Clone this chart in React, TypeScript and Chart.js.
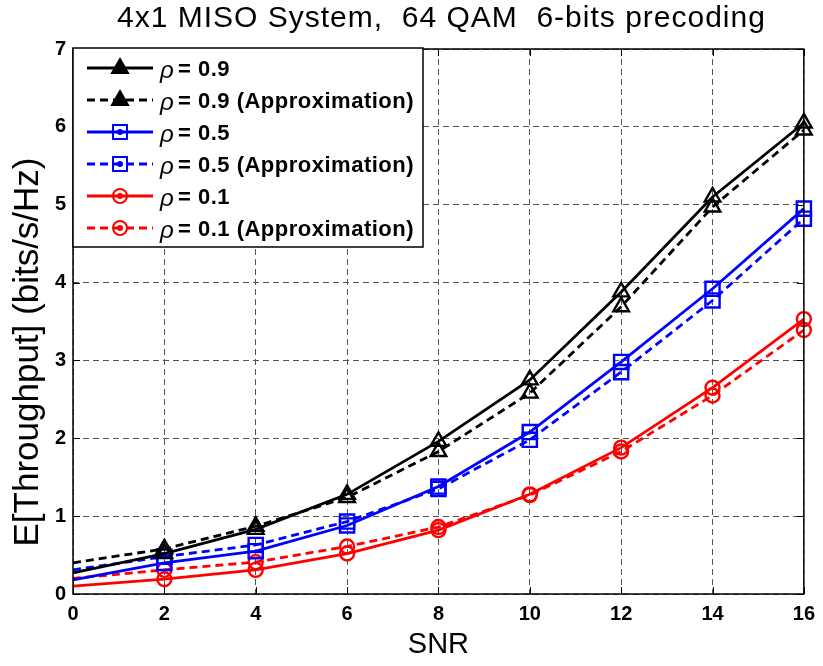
import { useEffect, useRef } from "react";
import { Chart, registerables } from "chart.js";

Chart.register(...registerables);

const snr = [0, 2, 4, 6, 8, 10, 12, 14, 16];
const rho09 = [0.27, 0.52, 0.83, 1.28, 1.96, 2.75, 3.88, 5.1, 6.05];
const rho09Approx = [0.4, 0.58, 0.87, 1.24, 1.83, 2.58, 3.69, 4.97, 5.96];
const rho05 = [0.18, 0.4, 0.55, 0.88, 1.38, 2.08, 2.98, 3.92, 4.95];
const rho05Approx = [0.31, 0.48, 0.63, 0.93, 1.35, 1.98, 2.85, 3.77, 4.82];
const rho01 = [0.1, 0.19, 0.31, 0.52, 0.82, 1.28, 1.88, 2.65, 3.53];
const rho01Approx = [0.2, 0.31, 0.41, 0.61, 0.86, 1.27, 1.83, 2.55, 3.39];

const legendLabels = [
  "= 0.9",
  "= 0.9 (Approximation)",
  "= 0.5",
  "= 0.5 (Approximation)",
  "= 0.1",
  "= 0.1 (Approximation)",
];
const titleText = "4x1 MISO System,  64 QAM  6-bits precoding";
const xLabel = "SNR";
const yLabel = "E[Throughput] (bits/s/Hz)";

const FONT = "'Liberation Sans', Arial, Helvetica, sans-serif";

type Series = {
  label: string;
  values: number[];
  color: string;
  dashed: boolean;
  marker: "triangle" | "rect" | "circle";
  radius: number;
};

const series: Series[] = [
  { label: legendLabels[0], values: rho09, color: "#000000", dashed: false, marker: "triangle", radius: 9 },
  { label: legendLabels[1], values: rho09Approx, color: "#000000", dashed: true, marker: "triangle", radius: 9 },
  { label: legendLabels[2], values: rho05, color: "#0000ff", dashed: false, marker: "rect", radius: 10 },
  { label: legendLabels[3], values: rho05Approx, color: "#0000ff", dashed: true, marker: "rect", radius: 10 },
  { label: legendLabels[4], values: rho01, color: "#ff0000", dashed: false, marker: "circle", radius: 7 },
  { label: legendLabels[5], values: rho01Approx, color: "#ff0000", dashed: true, marker: "circle", radius: 7 },
];

const LINE_DASH = [8, 5];

function setSpacing(ctx: any, v: string) {
  try {
    ctx.letterSpacing = v;
  } catch (e) {}
}

const framePlugin = {
  id: "frameAndLegend",
  afterDatasetsDraw(chart: any) {
    const { ctx, chartArea, scales } = chart;
    const { left, right, top, bottom } = chartArea;
    ctx.save();
    // inward tick marks
    ctx.strokeStyle = "#000";
    ctx.lineWidth = 1;
    ctx.setLineDash([]);
    const tl = 7;
    scales.x.ticks.forEach((t: any) => {
      const px = Math.round(scales.x.getPixelForValue(t.value)) + 0.5;
      ctx.beginPath();
      ctx.moveTo(px, bottom);
      ctx.lineTo(px, bottom - tl);
      ctx.moveTo(px, top);
      ctx.lineTo(px, top + tl);
      ctx.stroke();
    });
    scales.y.ticks.forEach((t: any) => {
      const py = Math.round(scales.y.getPixelForValue(t.value)) + 0.5;
      ctx.beginPath();
      ctx.moveTo(left, py);
      ctx.lineTo(left + tl, py);
      ctx.moveTo(right, py);
      ctx.lineTo(right - tl, py);
      ctx.stroke();
    });
    // frame
    ctx.lineWidth = 1.5;
    ctx.strokeRect(left, top, right - left, bottom - top);

    // legend
    const x0 = left;
    const y0 = top - 1;
    const w = 350;
    const h = 199;
    ctx.fillStyle = "#fff";
    ctx.fillRect(x0, y0, w, h);
    ctx.lineWidth = 1.5;
    ctx.strokeStyle = "#000";
    ctx.strokeRect(x0, y0, w, h);

    series.forEach((s, i) => {
      const cy = y0 + 20 + i * 32;
      ctx.strokeStyle = s.color;
      ctx.lineWidth = 2.8;
      ctx.setLineDash(s.dashed ? LINE_DASH : []);
      ctx.beginPath();
      ctx.moveTo(x0 + 14, cy);
      ctx.lineTo(x0 + 80, cy);
      ctx.stroke();
      ctx.setLineDash([]);
      const mx = x0 + 47;
      ctx.lineWidth = 2;
      ctx.fillStyle = s.color;
      if (s.marker === "triangle") {
        ctx.beginPath();
        ctx.moveTo(mx, cy - 9);
        ctx.lineTo(mx + 8, cy + 5);
        ctx.lineTo(mx - 8, cy + 5);
        ctx.closePath();
        ctx.fill();
        ctx.stroke();
      } else if (s.marker === "rect") {
        ctx.strokeRect(mx - 7, cy - 7, 14, 14);
        ctx.beginPath();
        ctx.arc(mx, cy, 3, 0, Math.PI * 2);
        ctx.fill();
      } else {
        ctx.beginPath();
        ctx.arc(mx, cy, 7, 0, Math.PI * 2);
        ctx.stroke();
        ctx.beginPath();
        ctx.arc(mx, cy, 3, 0, Math.PI * 2);
        ctx.fill();
      }
      ctx.fillStyle = "#000";
      ctx.textBaseline = "alphabetic";
      ctx.textAlign = "left";
      ctx.font = `italic 24px ${FONT}`;
      ctx.fillText("\u03c1", x0 + 87, cy + 10);
      ctx.font = `bold 22px ${FONT}`;
      setSpacing(ctx, "0.5px");
      ctx.fillText(s.label, x0 + 105, cy + 8);
      setSpacing(ctx, "0px");
    });
    ctx.restore();
  },
  afterDraw(chart: any) {
    const { ctx, chartArea } = chart;
    const cx = (chartArea.left + chartArea.right) / 2;
    ctx.save();
    ctx.fillStyle = "#000";
    ctx.textAlign = "center";
    ctx.textBaseline = "middle";
    // title
    ctx.font = `normal 30px ${FONT}`;
    setSpacing(ctx, "1px");
    ctx.fillText(titleText, cx + 3, 19);
    setSpacing(ctx, "0px");
    // y label
    ctx.translate(28, 352);
    ctx.rotate(-Math.PI / 2);
    ctx.font = `normal 35px ${FONT}`;
    ctx.fillText(yLabel, 0, 0);
    ctx.restore();
  },
};

export default function App() {
  const canvasRef = useRef<HTMLCanvasElement | null>(null);

  useEffect(() => {
    if (!canvasRef.current) return;
    const datasets = series.map((s) => ({
      label: "\u03c1 " + s.label,
      data: snr.map((x, i) => ({ x, y: s.values[i] })),
      borderColor: s.color,
      backgroundColor: "rgba(0,0,0,0)",
      borderWidth: 2.8,
      borderDash: s.dashed ? LINE_DASH : [],
      pointStyle: s.marker,
      pointRadius: snr.map((_, i) => (i === 0 ? 0 : s.radius)),
      pointHoverRadius: 0,
      pointBorderColor: s.color,
      pointBackgroundColor: "rgba(0,0,0,0)",
      pointBorderWidth: 2.4,
      tension: 0,
      clip: false as any,
    }));

    const chart = new Chart(canvasRef.current, {
      type: "line",
      data: { datasets },
      options: {
        responsive: false,
        animation: false,
        devicePixelRatio: 1,
        layout: { padding: { left: 0, right: 12, top: 49, bottom: 0 } },
        plugins: {
          legend: { display: false },
          tooltip: { enabled: false },
          title: { display: false },
        },
        scales: {
          x: {
            type: "linear",
            min: 0,
            max: 16,
            ticks: {
              stepSize: 2,
              color: "#000",
              padding: 8,
              font: { family: FONT, size: 20, weight: "bold" },
            },
            grid: { color: "#555", lineWidth: 1, drawTicks: false },
            border: { display: false, dash: [6, 4] },
            title: {
              display: true,
              text: xLabel,
              color: "#000",
              font: { family: FONT, size: 29, weight: "normal" },
              padding: { top: 0, bottom: 4 },
            },
            afterFit(scale: any) {
              scale.height = 72;
            },
          },
          y: {
            type: "linear",
            min: 0,
            max: 7,
            ticks: {
              stepSize: 1,
              color: "#000",
              padding: 7,
              font: { family: FONT, size: 20, weight: "bold" },
            },
            grid: { color: "#555", lineWidth: 1, drawTicks: false },
            border: { display: false, dash: [6, 4] },
            title: { display: false },
            afterFit(scale: any) {
              scale.width = 73;
            },
          },
        },
      },
      plugins: [framePlugin],
    });
    return () => chart.destroy();
  }, []);

  return (
    <div style={{ position: "fixed", left: 0, top: 0, width: 823, height: 666, background: "#fff" }}>
      <canvas ref={canvasRef} width={823} height={666} />
    </div>
  );
}
